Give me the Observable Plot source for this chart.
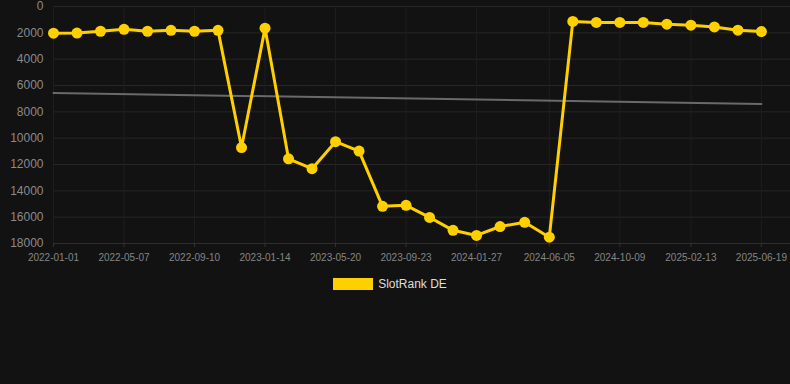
<!DOCTYPE html>
<html>
<head>
<meta charset="utf-8">
<script src="https://cdn.jsdelivr.net/npm/d3@7"></script>
<script src="https://cdn.jsdelivr.net/npm/@observablehq/plot@0.6"></script>
<style>
  html, body { margin: 0; padding: 0; background: #121212; }
  body { width: 790px; height: 384px; overflow: hidden; font-family: "Liberation Sans", Arial, sans-serif; }
  #legend { display: flex; justify-content: center; align-items: center; margin-top: 12px; gap: 5px; padding-right: 10px; }
  #legend .sw { width: 40px; height: 12px; background: #FFD000; }
  #legend .lb { color: #dddddd; font-size: 12px; }
</style>
</head>
<body>
<div id="chart"></div>
<div id="legend"><div class="sw"></div><div class="lb">SlotRank DE</div></div>
<script>
const dates = [
  "2022-01-01","2022-02-12","2022-03-26","2022-05-07","2022-06-18","2022-07-30",
  "2022-09-10","2022-10-22","2022-12-03","2023-01-14","2023-02-25","2023-04-08",
  "2023-05-20","2023-07-01","2023-08-12","2023-09-23","2023-11-04","2023-12-16",
  "2024-01-27","2024-03-09","2024-04-22","2024-06-05","2024-07-17","2024-08-28",
  "2024-10-09","2024-11-20","2025-01-01","2025-02-13","2025-03-27","2025-05-08",
  "2025-06-19"
];
const ranks = [
  2030, 2020, 1880, 1730, 1880, 1810, 1880, 1810, 10710, 1650, 11570,
  12320, 10270, 10980, 15180, 15100, 16020, 17000, 17390, 16710, 16390,
  17520, 1130, 1210, 1210, 1210, 1340, 1420, 1550, 1800, 1900
];
const trendDates = ["2022-01-01", "2025-06-19"];
const trendValues = [6570, 7400];
const xTickLabels = ["2022-01-01","2022-05-07","2022-09-10","2023-01-14","2023-05-20",
  "2023-09-23","2024-01-27","2024-06-05","2024-10-09","2025-02-13","2025-06-19"];
const yTicks = [0, 2000, 4000, 6000, 8000, 10000, 12000, 14000, 16000, 18000];

const parse = d3.utcParse("%Y-%m-%d");
const data = dates.map((d, i) => ({date: parse(d), rank: ranks[i]}));
const trend = trendDates.map((d, i) => ({date: parse(d), rank: trendValues[i]}));
const xTicks = xTickLabels.map(parse);

const gold = "#FFD000";
const chart = Plot.plot({
  width: 790,
  height: 265,
  marginLeft: 53,
  marginRight: 0,
  marginTop: 6,
  marginBottom: 22,
  style: { background: "#121212", fontFamily: "'Liberation Sans', Arial, sans-serif", overflow: "visible" },
  x: { type: "utc", domain: [parse("2022-01-01"), parse("2025-08-10")] },
  y: { domain: [0, 18000], reverse: true },
  marks: [
    Plot.gridY(yTicks, { stroke: "#262626", strokeOpacity: 1 }),
    Plot.gridX(xTicks, { stroke: "#1e1e1e", strokeOpacity: 1 }),
    Plot.ruleY([18000], { stroke: "#2e2e2e" }),
    Plot.axisY(yTicks, { tickSize: 0, tickPadding: 10, tickFormat: "d", fill: "#8a8a8a", fontSize: 12, label: null }),
    Plot.axisX(xTicks, { tickSize: 4, stroke: "#333", tickPadding: 6, tickFormat: d3.utcFormat("%Y-%m-%d"), fill: "#858585", fontSize: 10, label: null }),
    Plot.line(trend, { x: "date", y: "rank", stroke: "#6a6a6a", strokeWidth: 2 }),
    Plot.line(data, { x: "date", y: "rank", stroke: gold, strokeWidth: 3 }),
    Plot.dot(data, { x: "date", y: "rank", r: 5.5, fill: gold, stroke: "none" })
  ]
});
document.getElementById("chart").appendChild(chart);
</script>
</body>
</html>
